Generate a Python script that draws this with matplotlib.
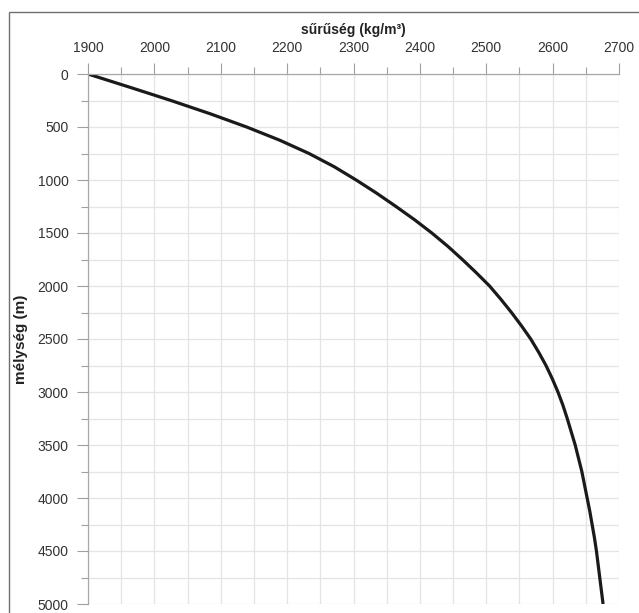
import matplotlib.pyplot as plt
from matplotlib.ticker import MultipleLocator
from matplotlib.patches import Rectangle

# depth (m) and density (kg/m3), every 125 m
depth = [0, 125, 250, 375, 500, 625, 750, 875, 1000, 1125, 1250, 1375, 1500,
         1625, 1750, 1875, 2000, 2125, 2250, 2375, 2500, 2625, 2750, 2875,
         3000, 3125, 3250, 3375, 3500, 3625, 3750, 3875, 4000, 4125, 4250,
         4375, 4500, 4625, 4750, 4875, 5000]
density = [1900, 1963, 2025, 2084, 2139, 2189, 2233, 2271, 2304, 2335, 2364, 2392, 2418,
           2442, 2464, 2485, 2505, 2522, 2538, 2553, 2567, 2579, 2590, 2599.5,
           2608, 2615.5, 2622, 2628, 2634, 2639, 2644, 2648, 2652, 2656, 2659.5,
           2663, 2666, 2668.5, 2671, 2673.5, 2676]

plt.rcParams['font.family'] = ['Liberation Sans', 'DejaVu Sans']

fig = plt.figure(figsize=(6.39, 6.13), dpi=100)
ax = fig.add_axes([88/639, 1 - 604/613, (619 - 88)/639, (604 - 74)/613])

# outer frame around the chart (cut off at right and bottom)
fig.patches.append(Rectangle((8.5/639, -0.05), 1.2, 1 - 11.5/613 + 0.05,
                             transform=fig.transFigure, fill=False,
                             edgecolor='#707070', linewidth=1.0))

ax.plot(density, depth, color='#1a1a1a', linewidth=2.3,
        solid_capstyle='butt', solid_joinstyle='round')

ax.set_xlim(1900, 2700)
ax.set_ylim(5000, 0)
ax.xaxis.set_major_locator(MultipleLocator(100))
ax.xaxis.set_minor_locator(MultipleLocator(50))
ax.yaxis.set_major_locator(MultipleLocator(500))
ax.yaxis.set_minor_locator(MultipleLocator(250))

ax.xaxis.tick_top()
ax.xaxis.set_label_position('top')
ax.tick_params(axis='both', which='major', length=8, width=0.8, color='#a0a0a0',
               labelsize=10, labelcolor='#333333')
ax.tick_params(axis='both', which='minor', length=5, width=0.8, color='#a0a0a0')
ax.tick_params(axis='x', which='both', pad=6)
ax.tick_params(axis='y', which='both', pad=6)

ax.grid(True, which='both', color='#e4e4e4', linewidth=0.9)
ax.set_axisbelow(True)
for s in ['right', 'bottom']:
    ax.spines[s].set_visible(False)
for s in ['left', 'top']:
    ax.spines[s].set_color('#a8a8a8')
    ax.spines[s].set_linewidth(0.9)

ax.set_xlabel('sűrűség (kg/m³)', fontsize=10, fontweight='bold', color='#222222', labelpad=5)
ax.set_ylabel('mélység (m)', fontsize=11, fontweight='bold', color='#222222', labelpad=7)

fig.savefig('out.png', dpi=100)
